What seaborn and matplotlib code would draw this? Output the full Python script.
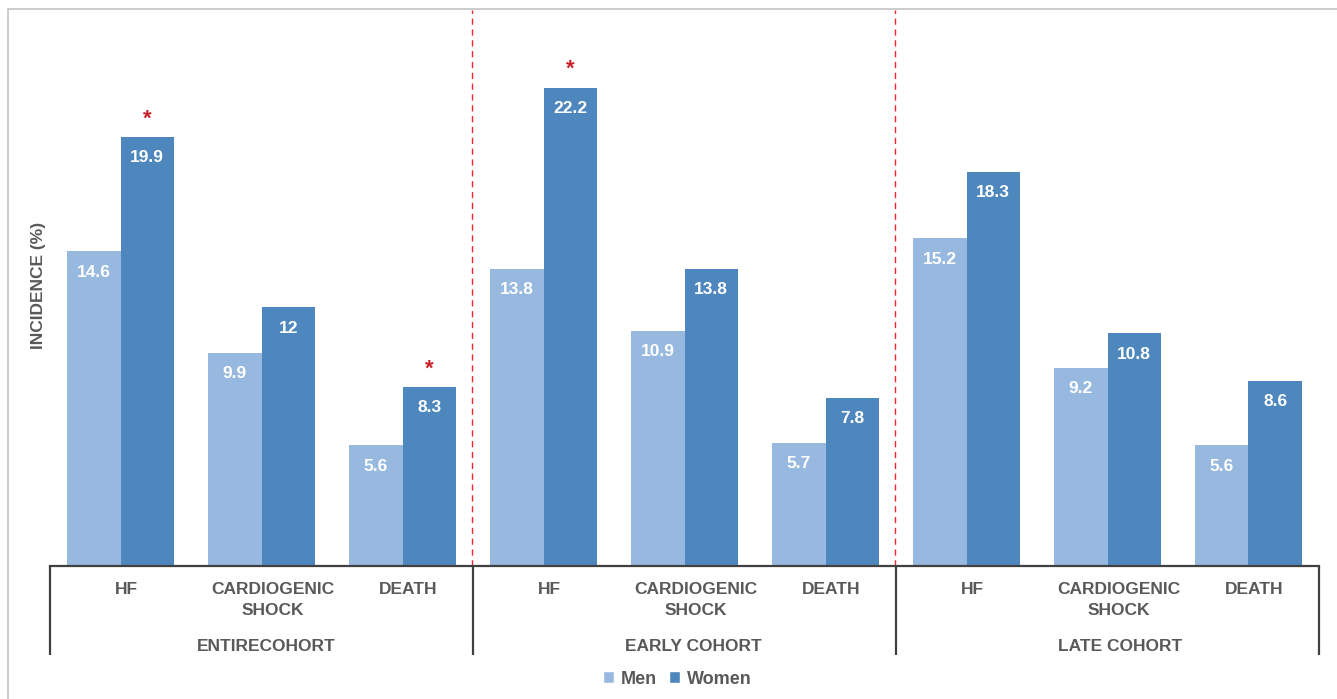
import matplotlib
matplotlib.use("Agg")
import matplotlib.pyplot as plt
from matplotlib.patches import Rectangle, Patch
import seaborn as sns
import pandas as pd

# Incidence (%) of outcomes by sex, per cohort
cohorts = ["ENTIRECOHORT", "EARLY COHORT", "LATE COHORT"]
outcomes = ["HF", "CARDIOGENIC\nSHOCK", "DEATH"]
men = [14.6, 9.9, 5.6, 13.8, 10.9, 5.7, 15.2, 9.2, 5.6]
women = [19.9, 12.0, 8.3, 22.2, 13.8, 7.8, 18.3, 10.8, 8.6]
# significant sex difference (marked with an asterisk over the women bar)
women_sig = [True, False, True, True, False, False, False, False, False]
sexes = ["Men", "Women"]

slots = [f"{c}|{o}" for c in cohorts for o in outcomes]
df = pd.DataFrame({
    "slot": slots * 2,
    "sex": ["Men"] * len(slots) + ["Women"] * len(slots),
    "value": men + women,
})

men_c = "#98B9DF"
women_c = "#4E87BD"
text_c = "#595959"
font = "Liberation Sans"

sns.set_theme(style="white")
plt.rcParams["font.family"] = [font, "DejaVu Sans"]
plt.rcParams["font.weight"] = "bold"

W, H = 1337, 699
fig = plt.figure(figsize=(W / 100, H / 100), dpi=100)
ax_l, ax_r, ax_b, ax_t = 50, 1319, 566, 10
ax_h = ax_b - ax_t
ax = fig.add_axes([ax_l / W, (H - ax_b) / H, (ax_r - ax_l) / W, ax_h / H])

sns.barplot(data=df, x="slot", y="value", hue="sex", order=slots,
            hue_order=sexes, palette=[men_c, women_c], width=0.76,
            saturation=1, errorbar=None, legend=False, linewidth=0, ax=ax)

px_per_unit = 21.55
ax.set_ylim(0, ax_h / px_per_unit)
ax.set_xlim(-0.5, len(slots) - 0.5)
ax.set_xlabel("")
ax.set_ylabel("")
ax.set_xticks([])
ax.set_yticks([])
for s in ["left", "right", "top"]:
    ax.spines[s].set_visible(False)
ax.spines["bottom"].set_color("#404040")
ax.spines["bottom"].set_linewidth(1.6)

# value labels inside the bars, asterisks above significant women bars
for ci, cont in enumerate(ax.containers):
    for j, (bar, val) in enumerate(zip(cont.patches, cont.datavalues)):
        xc = bar.get_x() + bar.get_width() / 2
        ax.annotate(f"{val:g}", (xc, val), xytext=(0, -15), textcoords="offset points",
                    ha="center", va="center", color="white", fontsize=12.5,
                    fontweight="bold")
        if ci == 1 and women_sig[j]:
            ax.annotate("*", (xc, val), xytext=(0, 9), textcoords="offset points",
                        ha="center", va="baseline", color="#C8202A", fontsize=16,
                        fontweight="bold")

# red dashed separators between cohorts
for xb in [2.5, 5.5]:
    ax.axvline(xb - 0.01, color="#F0282E", lw=1.0, linestyle=(0, (4.5, 3.3)), zorder=0)

# hierarchical category axis (labels sit slightly right of the slot centre)
xt = ax.get_xaxis_transform()
pt = 72 / 100  # points per pixel
for i, s in enumerate(slots):
    lab = s.split("|")[1]
    dx = 11 if "\n" in lab else 6
    ax.annotate(lab, (i, 0), xycoords=xt, xytext=(dx * pt, -16 * pt),
                textcoords="offset points", ha="center", va="top",
                color=text_c, fontsize=12.5, fontweight="bold", linespacing=1.5,
                annotation_clip=False)
for k, c in enumerate(cohorts):
    ax.annotate(c, (3 * k + 1, 0), xycoords=xt, xytext=((5 + 4 * k) * pt, -73 * pt),
                textcoords="offset points", ha="center", va="top",
                color=text_c, fontsize=12.5, fontweight="bold", annotation_clip=False)
for xb in [-0.5, 2.5, 5.5, 8.5]:
    ax.plot([xb, xb], [0, -89 / ax_h], transform=xt, color="#404040", lw=1.6,
            clip_on=False, solid_capstyle="butt")

fig.text(38 / W, 1 - 285 / H, "INCIDENCE (%)", rotation=90, ha="center",
         va="center", color=text_c, fontsize=12.5, fontweight="bold")

handles = [Patch(facecolor=men_c, label="Men"), Patch(facecolor=women_c, label="Women")]
leg = fig.legend(handles=handles, loc="center", bbox_to_anchor=(677 / W, 1 - 679 / H),
                 ncol=2, frameon=False, handlelength=0.65, handleheight=0.65,
                 handletextpad=0.35, columnspacing=0.65,
                 prop={"family": font, "weight": "bold", "size": 13})
for t in leg.get_texts():
    t.set_color(text_c)

fig.patches.append(Rectangle((8 / W, -0.02), 1.0, 1 - 9 / H + 0.02,
                             transform=fig.transFigure, fill=False,
                             edgecolor="#C4C4C4", lw=1.2))

fig.savefig("out.png", dpi=100, facecolor="white")
